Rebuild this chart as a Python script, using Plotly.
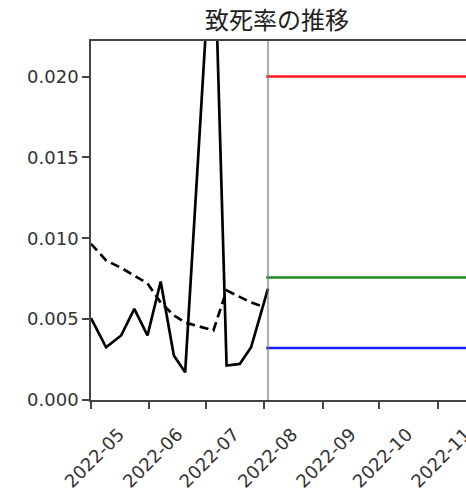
import plotly.graph_objects as go

# data
solid_dates = ["2022-05-01", "2022-05-09", "2022-05-17", "2022-05-24", "2022-05-31",
               "2022-06-07", "2022-06-14", "2022-06-20", "2022-07-05", "2022-07-12",
               "2022-07-19", "2022-07-25", "2022-08-03"]
solid_vals = [0.00506, 0.00326, 0.00399, 0.00564, 0.00399,
              0.00733, 0.00275, 0.00171, 0.0306, 0.00213,
              0.00223, 0.00326, 0.00688]

dash_dates = ["2022-05-01", "2022-05-09", "2022-05-17", "2022-05-24", "2022-05-31",
              "2022-06-07", "2022-06-14", "2022-06-20", "2022-07-05", "2022-07-12",
              "2022-07-19", "2022-07-25", "2022-07-31"]
dash_vals = [0.00966, 0.00863, 0.00817, 0.00771, 0.00721,
             0.00603, 0.00523, 0.00479, 0.0043, 0.00678,
             0.0064, 0.00603, 0.00579]

vline_date = "2022-08-03"
hline_start = "2022-08-02"
hline_end = "2022-12-31"
hline_vals = [0.0200, 0.00758, 0.00322]
hline_colors = ["#ff1a1a", "#1e8c1e", "#1a1aff"]

yticks = [0.0, 0.005, 0.010, 0.015, 0.020]
xticks = ["2022-05-01", "2022-06-01", "2022-07-01", "2022-08-01",
          "2022-09-01", "2022-10-01", "2022-11-01"]
xtick_labels = ["2022-05", "2022-06", "2022-07", "2022-08", "2022-09", "2022-10", "2022-11"]

fig = go.Figure()

for v, c in zip(hline_vals, hline_colors):
    fig.add_trace(go.Scatter(x=[hline_start, hline_end], y=[v, v], mode="lines",
                             line=dict(color=c, width=2.5), showlegend=False))

fig.add_trace(go.Scatter(x=dash_dates, y=dash_vals, mode="lines",
                         line=dict(color="black", width=2.7, dash="9px,5px"), showlegend=False))
fig.add_trace(go.Scatter(x=solid_dates, y=solid_vals, mode="lines",
                         line=dict(color="black", width=2.7), showlegend=False))

fig.add_shape(type="line", xref="x", yref="paper", x0=vline_date, x1=vline_date, y0=0, y1=1,
              line=dict(color="#777777", width=1.2))

fig.update_layout(
    width=466, height=492,
    margin=dict(l=91, r=0, t=41, b=92, autoexpand=False),
    paper_bgcolor="white", plot_bgcolor="white",
    font=dict(family="DejaVu Sans", size=18, color="#333333"),
    title=dict(text="致死率の推移", x=277 / 466, xanchor="center", y=1 - 21 / 492, yanchor="middle",
               font=dict(family="Noto Sans CJK JP", size=24, color="#222222")),
    xaxis=dict(type="date", range=["2022-05-01", "2022-11-16 03:00"],
               tickvals=xticks, ticktext=xtick_labels, tickangle=-45,
               ticklabelshift=28, ticklabelstandoff=8, ticklabeloverflow="allow",
               automargin=False,
               showgrid=False, zeroline=False, showline=True, linecolor="#444444", linewidth=1.5,
               mirror=True, ticks="outside", ticklen=7, tickcolor="#444444", tickwidth=1.5),
    yaxis=dict(range=[0, 0.0222], tickvals=yticks, tickformat=".3f", automargin=False,
               showgrid=False, zeroline=False, showline=True, linecolor="#444444", linewidth=1.5,
               mirror=False, ticks="outside", ticklen=7, tickcolor="#444444", tickwidth=1.5),
)

fig.write_html("out.html")
